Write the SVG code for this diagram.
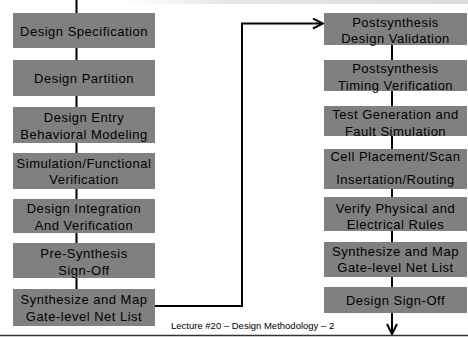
<svg xmlns="http://www.w3.org/2000/svg" width="468" height="337" viewBox="0 0 468 337">
<defs>
<style>
.box{fill:#808080;}
.t{font-family:"Liberation Sans",Arial,sans-serif;font-size:13px;letter-spacing:0.5px;fill:#000;text-anchor:middle;}
.ln{stroke:#000;stroke-width:2;fill:none;}
.ft{font-family:"Liberation Sans",Arial,sans-serif;font-size:9.5px;fill:#000;}
</style>
<linearGradient id="tg" x1="0" y1="0" x2="1" y2="0">
<stop offset="0" stop-color="#e8e8e8" stop-opacity="0"/>
<stop offset="0.3" stop-color="#e0e0e0" stop-opacity="0.8"/>
<stop offset="1" stop-color="#d8d8d8" stop-opacity="0.9"/>
</linearGradient>
<marker id="ah" viewBox="0 0 12 12" refX="11" refY="6" markerWidth="12" markerHeight="12" markerUnits="userSpaceOnUse" orient="auto">
<path d="M1,1 L11,6 L1,11" fill="none" stroke="#000" stroke-width="2"/>
</marker>
</defs>
<rect width="468" height="337" fill="#fff"/>
<rect x="120" y="0" width="348" height="4" fill="url(#tg)"/>
<g id="connectors">
<line class="ln" x1="76.5" y1="0" x2="76.5" y2="289"/>
<line class="ln" x1="392" y1="45" x2="392" y2="287"/>
<polyline class="ln" points="155,306 242,306 242,23.5 323,23.5" marker-end="url(#ah)"/>
<line class="ln" x1="392" y1="313" x2="392" y2="334" marker-end="url(#ah)"/>
<line x1="0" y1="335.5" x2="468" y2="335.5" stroke="#333" stroke-width="1.5"/>
</g>
<g id="n1"><rect class="box" x="13" y="13" width="142" height="35"/><text class="t" x="84" y="35.5">Design Specification</text></g>
<g id="n2"><rect class="box" x="13" y="60" width="142" height="36"/><text class="t" x="84" y="82.5">Design Partition</text></g>
<g id="n3"><rect class="box" x="13" y="107" width="142" height="36"/><text class="t" x="84" y="121.5">Design Entry</text><text class="t" x="84" y="138.5">Behavioral Modeling</text></g>
<g id="n4"><rect class="box" x="13" y="153" width="142" height="36"/><text class="t" x="84" y="167.5">Simulation/Functional</text><text class="t" x="84" y="183.5">Verification</text></g>
<g id="n5"><rect class="box" x="13" y="199" width="142" height="34"/><text class="t" x="84" y="212.5">Design Integration</text><text class="t" x="84" y="229.5">And Verification</text></g>
<g id="n6"><rect class="box" x="13" y="243" width="142" height="35"/><text class="t" x="84" y="257.5">Pre-Synthesis</text><text class="t" x="84" y="274.5">Sign-Off</text></g>
<g id="n7"><rect class="box" x="13" y="289" width="142" height="37"/><text class="t" x="84" y="303.5">Synthesize and Map</text><text class="t" x="84" y="320.5">Gate-level Net List</text></g>
<g id="n8"><rect class="box" x="324" y="13" width="143" height="32"/><text class="t" x="395.5" y="26.5">Postsynthesis</text><text class="t" x="395.5" y="42.5">Design Validation</text></g>
<g id="n9"><rect class="box" x="324" y="60" width="143" height="31"/><text class="t" x="395.5" y="72.5">Postsynthesis</text><text class="t" x="395.5" y="89.5">Timing Verification</text></g>
<g id="n10"><rect class="box" x="324" y="106" width="143" height="30"/><text class="t" x="395.5" y="118.5">Test Generation and</text><text class="t" x="395.5" y="135.5">Fault Simulation</text></g>
<g id="n11"><rect class="box" x="324" y="149" width="143" height="40"/><text class="t" x="395.5" y="161">Cell Placement/Scan</text><text class="t" x="395.5" y="183.5">Insertation/Routing</text></g>
<g id="n12"><rect class="box" x="324" y="197" width="143" height="34"/><text class="t" x="395.5" y="212.5">Verify Physical and</text><text class="t" x="395.5" y="228.5">Electrical Rules</text></g>
<g id="n13"><rect class="box" x="324" y="242" width="143" height="35"/><text class="t" x="395.5" y="255.5">Synthesize and Map</text><text class="t" x="395.5" y="271.5">Gate-level Net List</text></g>
<g id="n14"><rect class="box" x="324" y="287" width="143" height="26"/><text class="t" x="395.5" y="304.5">Design Sign-Off</text></g>
<text class="ft" x="171" y="329">Lecture #20 – Design Methodology  – 2</text>
</svg>
